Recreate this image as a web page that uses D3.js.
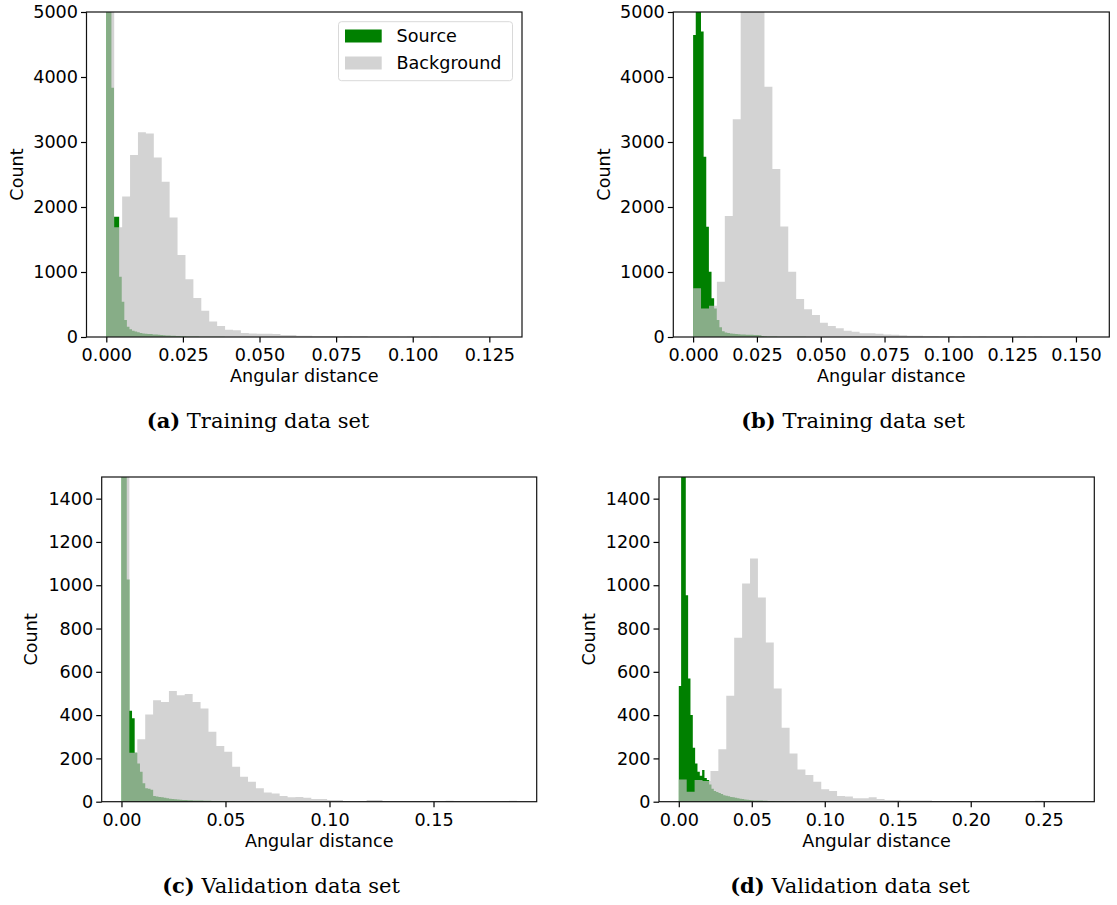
<!DOCTYPE html>
<html>
<head>
<meta charset="utf-8">
<script src="https://cdn.jsdelivr.net/npm/d3@7"></script>
<style>
  html, body { margin: 0; padding: 0; background: #fff; }
  svg { display: block; }
</style>
</head>
<body>
<svg id="fig" width="1117" height="905"></svg>
<script>
// ---- Histogram counts (50 equal-width bins per series) ----
// (a) Training data set
const bgMaxA = 0.1292, srcMaxA = 0.042;
const bgA = [7000, 1690, 2160, 2800, 3150, 3130, 2760, 2390, 1840, 1260,
             890, 600, 405, 240, 170, 110, 105, 60, 55, 50,
             50, 45, 30, 30, 20, 18, 12, 10, 12, 8,
             10, 8, 10, 3, 2, 3, 2, 1, 2, 1,
             1, 2, 1, 0, 1, 1, 0, 1, 0, 1];
const srcA = [9500, 6500, 3835, 1850, 1850, 928, 543, 262, 158, 120,
              95, 85, 75, 60, 55, 50, 48, 45, 40, 38,
              35, 30, 28, 25, 22, 20, 18, 16, 14, 12,
              10, 9, 8, 7, 6, 6, 5, 5, 4, 4,
              3, 3, 3, 2, 2, 2, 1, 1, 1, 1];

// (b) Training data set
const bgMaxB = 0.1553, srcMaxB = 0.0515;
const bgB = [750, 440, 480, 850, 1860, 3350, 5600, 6000, 5300, 3850,
             2585, 1700, 1005, 585, 426, 338, 220, 169, 133, 97,
             82, 57, 57, 50, 40, 35, 28, 20, 18, 12,
             10, 8, 6, 5, 8, 4, 6, 3, 5, 2,
             1, 3, 1, 2, 1, 1, 0, 1, 0, 1];
const srcB = [4646, 5500, 5200, 4700, 2775, 1697, 1005, 595, 440, 262,
              150, 90, 70, 60, 55, 50, 45, 42, 40, 38,
              36, 35, 33, 32, 30, 28, 15, 10, 8, 7,
              6, 6, 5, 5, 4, 4, 3, 3, 3, 2,
              2, 2, 2, 1, 1, 1, 1, 1, 1, 1];

// (c) Validation data set
const bgMaxC = 0.1901, srcMaxC = 0.0635;
const bgC = [3000, 226, 288, 403, 469, 461, 511, 492, 497, 461,
             431, 323, 257, 231, 162, 115, 92, 62, 42, 38,
             26, 20, 22, 18, 12, 12, 8, 8, 3, 2,
             3, 8, 8, 2, 1, 2, 1, 1, 0, 1,
             2, 4, 1, 0, 1, 0, 1, 0, 1, 4];
const srcC = [4000, 1800, 1026, 420, 385, 226, 177, 138, 85, 62,
              60, 55, 26, 24, 22, 20, 18, 16, 14, 12,
              11, 10, 9, 8, 8, 7, 7, 6, 6, 5,
              5, 4, 4, 4, 3, 3, 3, 3, 2, 2,
              2, 2, 2, 1, 1, 1, 1, 1, 1, 1];

// (d) Validation data set
const bgMaxD = 0.2711, srcMaxD = 0.08;
const bgD = [103, 46, 100, 96, 142, 242, 489, 757, 1008, 1123,
             943, 735, 523, 342, 223, 149, 123, 92, 57, 49,
             26, 24, 16, 16, 20, 12, 8, 8, 6, 6,
             5, 6, 3, 3, 2, 3, 2, 2, 2, 1,
             2, 2, 1, 2, 1, 4, 3, 3, 2, 3];
const srcD = [534, 2500, 1800, 954, 569, 400, 249, 177, 138, 120,
              146, 110, 100, 80, 60, 50, 45, 40, 35, 30,
              28, 25, 22, 20, 18, 16, 14, 12, 10, 9,
              8, 7, 6, 6, 5, 5, 4, 4, 3, 3,
              3, 2, 2, 2, 2, 1, 1, 1, 1, 1];

// ---- Tick values ----
const xTicksA = [0, 0.025, 0.05, 0.075, 0.1, 0.125];
const xTicksB = [0, 0.025, 0.05, 0.075, 0.1, 0.125, 0.15];
const xTicksC = [0, 0.05, 0.1, 0.15];
const xTicksD = [0, 0.05, 0.1, 0.15, 0.2, 0.25];
const yTicksTop = [0, 1000, 2000, 3000, 4000, 5000];
const yTicksBottom = [0, 200, 400, 600, 800, 1000, 1200, 1400];

const seriesNames = ["Source", "Background"];
const captionLetters = ["(a)", "(b)", "(c)", "(d)"];
const captionTexts = ["Training data set", "Training data set", "Validation data set", "Validation data set"];

// ---- Styling ----
const SRC_COLOR = "#008000";
const BG_COLOR = "silver";
const BG_OPACITY = 0.7;
const SANS = "'DejaVu Sans', sans-serif";
const SERIF = "'DejaVu Serif', 'Liberation Serif', serif";
const FS = 17.6;

const panels = [
  { bg: bgA, src: srcA, bgMax: bgMaxA, srcMax: srcMaxA, yMax: 5000, xTicks: xTicksA, yTicks: yTicksTop, fmt: ".3f",
    box: { l: 86.5, r: 522, t: 12, b: 337 }, countX: 17, capX: 258, capY: 428, legend: true },
  { bg: bgB, src: srcB, bgMax: bgMaxB, srcMax: srcMaxB, yMax: 5000, xTicks: xTicksB, yTicks: yTicksTop, fmt: ".3f",
    box: { l: 673.3, r: 1109.3, t: 12, b: 337 }, countX: 604, capX: 853, capY: 428 },
  { bg: bgC, src: srcC, bgMax: bgMaxC, srcMax: srcMaxC, yMax: 1500, xTicks: xTicksC, yTicks: yTicksBottom, fmt: ".2f",
    box: { l: 101.7, r: 536.7, t: 477, b: 801.7 }, countX: 31, capX: 281, capY: 893 },
  { bg: bgD, src: srcD, bgMax: bgMaxD, srcMax: srcMaxD, yMax: 1500, xTicks: xTicksD, yTicks: yTicksBottom, fmt: ".2f",
    box: { l: 659, r: 1094.3, t: 477, b: 801.7 }, countX: 589, capX: 850, capY: 893 }
];

const svg = d3.select("#fig");

// Turn a list of counts over [0, max] into step points for d3.area
function stepPoints(counts, max) {
  const w = max / counts.length;
  const pts = counts.map((c, i) => ({ x: i * w, c }));
  pts.push({ x: max, c: counts[counts.length - 1] });
  return pts;
}

panels.forEach((p, i) => {
  const { l, r, t, b } = p.box;
  const x = d3.scaleLinear().domain([-0.05 * p.bgMax, 1.05 * p.bgMax]).range([l, r]);
  const y = d3.scaleLinear().domain([0, p.yMax]).range([b, t]);

  const g = svg.append("g");
  const clipId = "clip" + i;
  svg.append("clipPath").attr("id", clipId)
    .append("rect").attr("x", l).attr("y", t).attr("width", r - l).attr("height", b - t);

  const area = d3.area()
    .curve(d3.curveStepAfter)
    .x(d => x(d.x))
    .y0(y(0))
    .y1(d => y(d.c));

  const plot = g.append("g").attr("clip-path", `url(#${clipId})`);
  plot.append("path")
    .datum(stepPoints(p.src, p.srcMax))
    .attr("d", area)
    .attr("fill", SRC_COLOR);
  plot.append("path")
    .datum(stepPoints(p.bg, p.bgMax))
    .attr("d", area)
    .attr("fill", BG_COLOR)
    .attr("fill-opacity", BG_OPACITY);

  // Axes
  const xAxis = d3.axisBottom(x).tickValues(p.xTicks).tickFormat(d3.format(p.fmt)).tickSize(5.5).tickPadding(3);
  const yAxis = d3.axisLeft(y).tickValues(p.yTicks).tickFormat(d3.format("d")).tickSize(5.5).tickPadding(3);

  const gx = g.append("g").attr("transform", `translate(0,${b})`).call(xAxis);
  const gy = g.append("g").attr("transform", `translate(${l},0)`).call(yAxis);
  [gx, gy].forEach(ax => {
    ax.select(".domain").remove();
    ax.selectAll(".tick line").attr("stroke", "#000").attr("stroke-width", 1.2);
    ax.selectAll(".tick text")
      .attr("fill", "#000")
      .attr("font-family", SANS)
      .attr("font-size", FS);
  });
  gx.selectAll(".tick text").attr("dy", "0.9em");

  // Spines
  g.append("rect")
    .attr("x", l).attr("y", t).attr("width", r - l).attr("height", b - t)
    .attr("fill", "none").attr("stroke", "#111").attr("stroke-width", 1.2);

  // Axis labels
  g.append("text")
    .attr("x", (l + r) / 2).attr("y", b + 45)
    .attr("text-anchor", "middle")
    .attr("font-family", SANS).attr("font-size", FS).attr("fill", "#000")
    .text("Angular distance");
  g.append("text")
    .attr("transform", `translate(${p.countX},${(t + b) / 2}) rotate(-90)`)
    .attr("text-anchor", "middle")
    .attr("dominant-baseline", "central")
    .attr("font-family", SANS).attr("font-size", FS).attr("fill", "#000")
    .text("Count");

  // Caption
  const cap = g.append("text")
    .attr("x", p.capX).attr("y", p.capY)
    .attr("text-anchor", "middle")
    .attr("font-family", SERIF).attr("font-size", 21).attr("fill", "#000");
  cap.append("tspan").attr("font-weight", "bold").text(captionLetters[i]);
  cap.append("tspan").text(" " + captionTexts[i]);

  // Legend
  if (p.legend) {
    const lg = g.append("g");
    lg.append("rect")
      .attr("x", 338.5).attr("y", 21.7).attr("width", 174).attr("height", 59)
      .attr("rx", 3).attr("fill", "#fff").attr("fill-opacity", 0.8)
      .attr("stroke", "#d9d9d9").attr("stroke-width", 1);
    const colors = [SRC_COLOR, BG_COLOR];
    const opac = [1, BG_OPACITY];
    seriesNames.forEach((name, k) => {
      const cy = 36 + k * 27;
      lg.append("rect")
        .attr("x", 345).attr("y", cy - 6.5).attr("width", 36.7).attr("height", 13)
        .attr("fill", colors[k]).attr("fill-opacity", opac[k]);
      lg.append("text")
        .attr("x", 396.5).attr("y", cy)
        .attr("dominant-baseline", "central")
        .attr("font-family", SANS).attr("font-size", FS).attr("fill", "#000")
        .text(name);
    });
  }
});
</script>
</body>
</html>
